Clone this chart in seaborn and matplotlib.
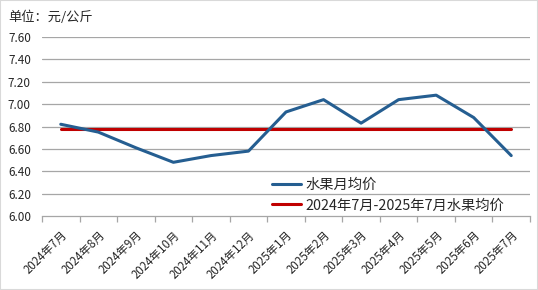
import numpy as np
import pandas as pd
import matplotlib
matplotlib.use('Agg')
import matplotlib.pyplot as plt
import seaborn as sns

months = ['2024年7月', '2024年8月', '2024年9月', '2024年10月', '2024年11月', '2024年12月',
          '2025年1月', '2025年2月', '2025年3月', '2025年4月', '2025年5月', '2025年6月', '2025年7月']
price = [6.82, 6.75, 6.61, 6.48, 6.54, 6.58, 6.93, 7.04, 6.83, 7.04, 7.08, 6.88, 6.54]
avg_price = [6.78] * 13
yticks = [6.00, 6.20, 6.40, 6.60, 6.80, 7.00, 7.20, 7.40, 7.60]

sns.set_theme(style='white')
plt.rcParams['font.family'] = ['Noto Sans CJK SC', 'DejaVu Sans']

df = pd.DataFrame({'x': range(len(months)), 'price': price, 'avg': avg_price})

fig = plt.figure(figsize=(5.38, 2.90), dpi=100)
ax = fig.add_axes([42/538, 1-216/290, (530-42)/538, (216-37)/290])

for y in yticks[1:]:
    ax.axhline(y, color='#a6a6a6', linewidth=0.9, zorder=0)

sns.lineplot(data=df, x='x', y='avg', color='#c00000', linewidth=2.2, ax=ax,
             label='2024年7月-2025年7月水果均价')
sns.lineplot(data=df, x='x', y='price', color='#255e91', linewidth=2.2, ax=ax,
             label='水果月均价')

ax.set_xlim(-0.5, len(months) - 0.5)
ax.set_ylim(6.0, 7.6)
ax.set_yticks(yticks)
ax.set_yticklabels(['%.2f' % v for v in yticks], fontsize=8.5)
ax.set_xticks(range(len(months)))
ax.set_xticklabels(months, rotation=45, ha='right', rotation_mode='anchor', fontsize=8.3)
ax.set_xticks(np.arange(-0.5, len(months)), minor=True)
ax.tick_params(axis='x', which='major', length=0, pad=9)
ax.tick_params(axis='x', which='minor', length=4, color='#a6a6a6', width=0.9, bottom=True)
ax.tick_params(axis='y', length=0, pad=8)
ax.set_xlabel('')
ax.set_ylabel('')
for s in ['top', 'right', 'left']:
    ax.spines[s].set_visible(False)
ax.spines['bottom'].set_color('#a6a6a6')
ax.spines['bottom'].set_linewidth(0.9)

h, l = ax.get_legend_handles_labels()
ax.legend(h[::-1], l[::-1], loc='upper left', bbox_to_anchor=(272/538, 1-178/290),
          bbox_transform=fig.transFigure, frameon=False, fontsize=10.3,
          handlelength=2.0, handletextpad=0.35, labelspacing=0.45, borderpad=0, borderaxespad=0)

fig.text(8/538, 1-17/290, '单位：元/公斤', fontsize=9.5, va='center', ha='left')
fig.patches.append(plt.Rectangle((0, 0), 1, 1, transform=fig.transFigure, fill=False,
                                 edgecolor='#d9d9d9', linewidth=1.5))

fig.savefig('out.png', dpi=100)
